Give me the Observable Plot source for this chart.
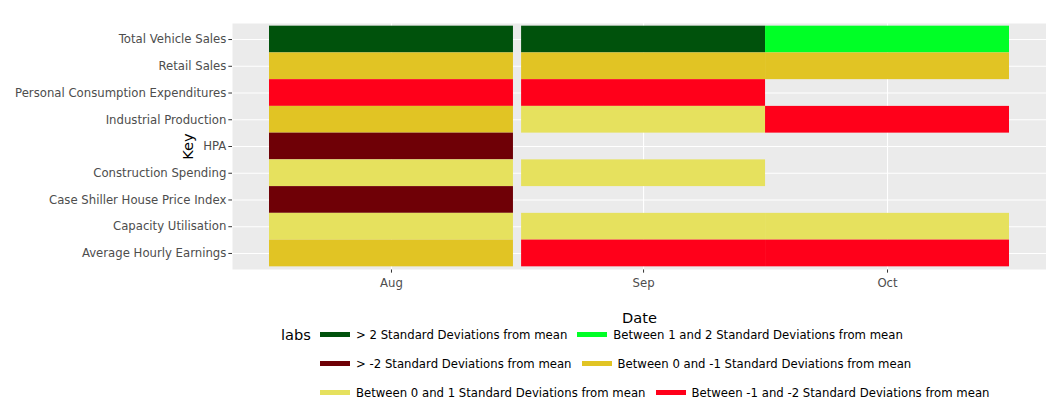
<!DOCTYPE html>
<html><head><meta charset="utf-8">
<script src="https://cdn.jsdelivr.net/npm/d3@7"></script>
<script src="https://cdn.jsdelivr.net/npm/@observablehq/plot@0.6"></script>
<style>
body{margin:0;background:#fff;font-family:"DejaVu Sans",Verdana,sans-serif;}
#wrap{position:relative;width:1046px;height:412px;overflow:hidden;}
#legend{position:absolute;left:0;top:320px;width:1046px;height:90px;}
#legtitle{position:absolute;left:281px;top:6px;font-size:14.6px;color:#000;line-height:18px;}
#items{position:absolute;left:320px;top:0;width:726px;display:flex;flex-wrap:wrap;}
.item{display:flex;align-items:center;height:29px;margin-right:10px;font-size:11.7px;color:#000;white-space:nowrap;}
.sw{width:30px;height:5px;margin-right:6px;}
</style></head><body>
<div id="wrap"><div id="chart"></div><div id="legend"><div id="legtitle">labs</div><div id="items"></div></div></div>
<script>
// categories (top to bottom)
const keys = ["Total Vehicle Sales","Retail Sales","Personal Consumption Expenditures","Industrial Production","HPA","Construction Spending","Case Shiller House Price Index","Capacity Utilisation","Average Hourly Earnings"];
// months (tile centres)
const months = ["2018-08-01","2018-09-01","2018-10-01"];
// legend levels
const levels = ["> 2 Standard Deviations from mean","Between 1 and 2 Standard Deviations from mean","> -2 Standard Deviations from mean","Between 0 and -1 Standard Deviations from mean","Between 0 and 1 Standard Deviations from mean","Between -1 and -2 Standard Deviations from mean"];
const levelColors = ["#00520C","#00FF26","#6F0006","#E1C424","#E6E15E","#FF001A"];
// per-month level index for each key (null = no tile)
const augLevels = [0,3,5,3,2,4,2,4,3];
const sepLevels = [0,3,5,4,null,4,null,4,5];
const octLevels = [1,3,null,5,null,null,null,4,5];
const monthLevels = [augLevels, sepLevels, octLevels];

const dates = months.map(m => new Date(m + "T00:00:00Z"));
const data = [];
monthLevels.forEach((arr, i) => arr.forEach((lv, j) => {
  if (lv !== null) data.push({date: dates[i], key: keys[j], labs: levels[lv]});
}));
const res = d3.min(d3.pairs(dates), ([a, b]) => (b - a) / 864e5);
const half = res / 2;
const lo = d3.utcDay.offset(dates[0], -half), hi = d3.utcDay.offset(dates[dates.length - 1], half);
const span = hi - lo;
const xDomain = [new Date(+lo - 0.05 * span), new Date(+hi + 0.05 * span)];

const chart = Plot.plot({
  width: 1046, height: 330,
  marginLeft: 232, marginRight: 0, marginTop: 23, marginBottom: 61,
  style: {fontFamily: '"DejaVu Sans", Verdana, sans-serif', fontSize: "11.7px", color: "#333333", background: "#ffffff"},
  x: {type: "utc", domain: xDomain, ticks: dates, tickFormat: d3.utcFormat("%b"), tickSize: 3.65, tickPadding: 6,
      label: "Date", labelAnchor: "center", labelOffset: 53, labelArrow: "none"},
  y: {domain: keys, paddingInner: 0, paddingOuter: 0.1, round: false, tickSize: 3.65, tickPadding: 2.5,
      label: "Key", labelAnchor: "center", labelOffset: 50, labelArrow: "none"},
  color: {domain: levels, range: levelColors},
  marks: [
    Plot.frame({fill: "#EBEBEB", stroke: "none"}),
    Plot.ruleX(dates, {stroke: "#ffffff", strokeWidth: 1.07}),
    Plot.ruleY(keys, {stroke: "#ffffff", strokeWidth: 1.07}),
    Plot.barX(data, {
      x1: d => d3.utcDay.offset(d.date, -half),
      x2: d => d3.utcDay.offset(d.date, half),
      y: "key", fill: "labs"
    })
  ]
});
document.getElementById("chart").appendChild(chart);
const svg = d3.select(chart);
svg.selectAll('[aria-label="x-axis label"] text, [aria-label="y-axis label"] text, g.label text, text.label')
  .style("font-size", "14.6px").style("fill", "#000");
svg.selectAll('[aria-label="x-axis tick label"] text, [aria-label="y-axis tick label"] text')
  .style("fill", "#4D4D4D");

const items = d3.select("#items");
levels.forEach((lv, i) => {
  const it = items.append("div").attr("class", "item");
  it.append("div").attr("class", "sw").style("background", levelColors[i]);
  it.append("span").text(lv);
});
</script>
</body></html>
